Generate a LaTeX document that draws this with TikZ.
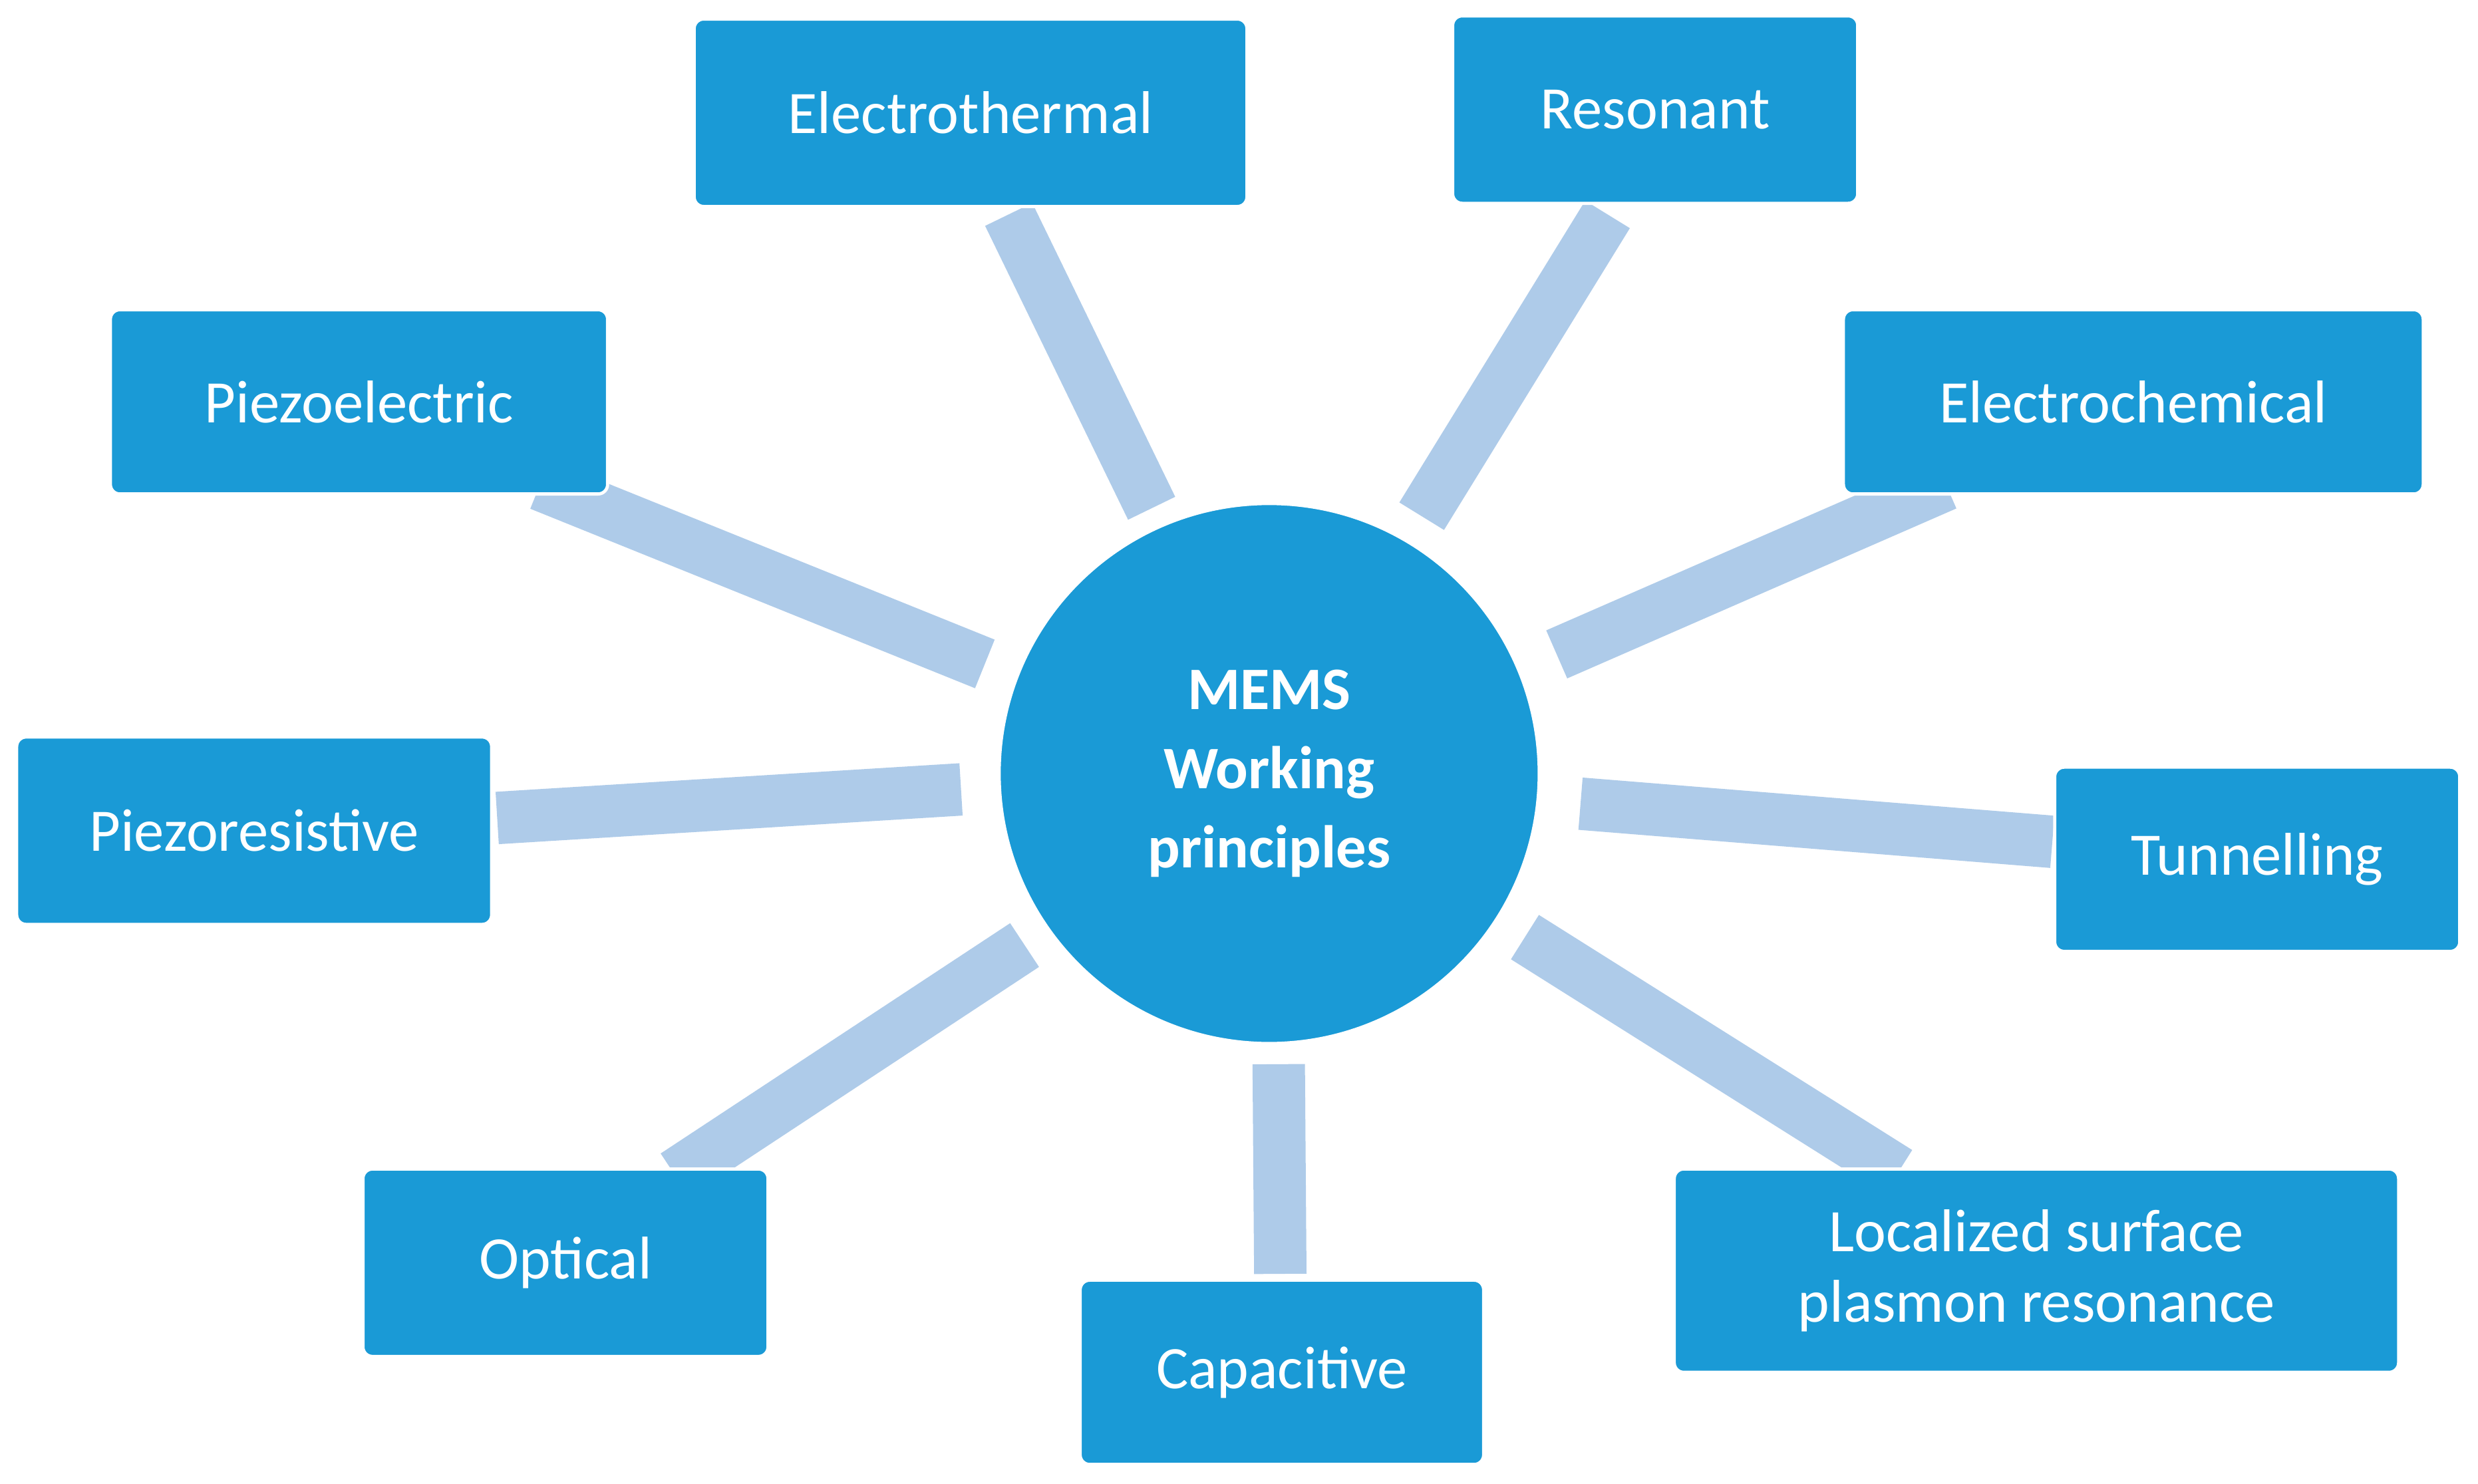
\documentclass[tikz,border=0pt]{standalone}
\usepackage{fontspec}
\setmainfont{Carlito}
\begin{document}
\begin{tikzpicture}[x=1pt,y=-1pt,
  box/.style={fill=boxblue,draw=white,line width=2pt,rounded corners=6pt,text=white,font=\fontsize{38}{44}\selectfont,align=center,inner sep=0pt},
  bar/.style={draw=barblue,line width=33pt,line cap=butt}]
\definecolor{boxblue}{HTML}{1A9AD6}
\definecolor{barblue}{HTML}{AECBE9}
\useasboundingbox[fill=white] (0,0) rectangle (1560,934);
% bars
\coordinate (a1) at (635,135); \coordinate (a2) at (725,320);
\coordinate (b1) at (1012,135); \coordinate (b2) at (895,325);
\coordinate (c1) at (340,305); \coordinate (c2) at (620,418);
\coordinate (d1) at (1225,305); \coordinate (d2) at (980,412);
\coordinate (e1) at (313,515); \coordinate (e2) at (605,497);
\coordinate (f1) at (995,506); \coordinate (f2) at (1292,530);
\coordinate (g1) at (425,740); \coordinate (g2) at (645,595);
\coordinate (h1) at (805,670); \coordinate (h2) at (806,802);
\coordinate (i1) at (960,590); \coordinate (i2) at (1195,738);
\foreach \p in {a,b,c,d,e,f,g,h,i} \draw[bar] (\p1) -- (\p2);
% center
\node[circle,fill=boxblue,draw=white,line width=2pt,minimum size=340pt,text=white,font=\bfseries\fontsize{38}{50}\selectfont,align=center] (mems) at (799,487) {MEMS\\Working\\principles};
% boxes
\node[box,minimum width=348pt,minimum height=118pt] (et) at (611,71) {Electrothermal};
\node[box,minimum width=255pt,minimum height=118pt] (res) at (1042,69) {Resonant};
\node[box,minimum width=313pt,minimum height=116pt] (pe) at (226,253) {Piezoelectric};
\node[box,minimum width=365pt,minimum height=116pt] (ec) at (1343,253) {Electrochemical};
\node[box,minimum width=299pt,minimum height=118pt] (pr) at (160,523) {Piezoresistive};
\node[box,minimum width=255pt,minimum height=116pt] (tu) at (1421,541) {Tunnelling};
\node[box,minimum width=255pt,minimum height=118pt] (op) at (356,795) {Optical};
\node[box,minimum width=254pt,minimum height=116pt] (ca) at (807,864) {Capacitive};
\node[box,minimum width=456pt,minimum height=128pt] (ls) at (1282,800) {Localized surface\\plasmon resonance};
\end{tikzpicture}
\end{document}
